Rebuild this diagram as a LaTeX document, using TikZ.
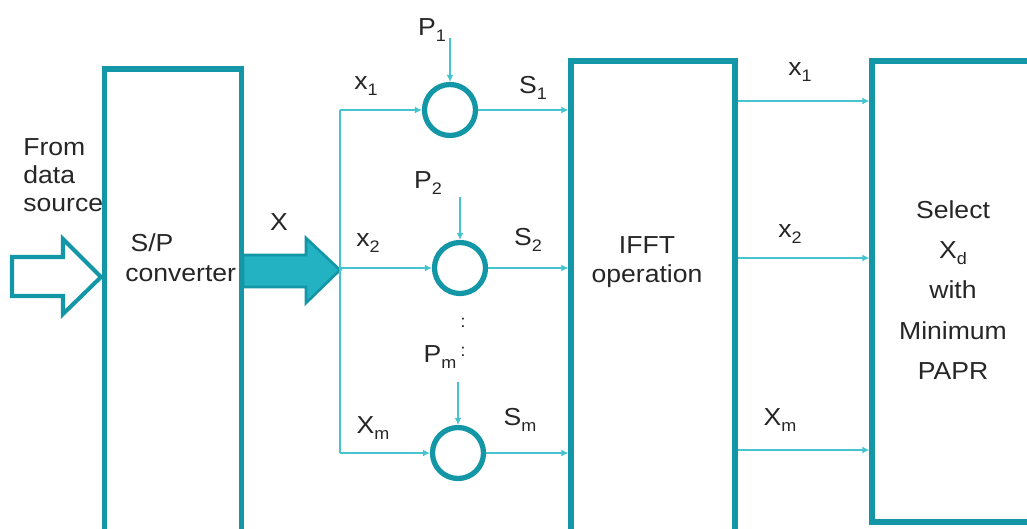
\documentclass[tikz,border=0pt]{standalone}
\usepackage{fontspec}
\setmainfont{Liberation Sans}[FakeStretch=1.08]
\usepackage{xcolor}
\usepackage{tikz}
\usetikzlibrary{calc,positioning,arrows.meta}

\definecolor{tealbox}{HTML}{1396A6}
\definecolor{tealline}{HTML}{45C3CF}
\definecolor{tealfill}{HTML}{22B2C1}

\newcommand{\lowsub}[1]{\raisebox{-0.45ex}{\fontsize{9.5}{10}\selectfont #1}}

\begin{document}
\begin{tikzpicture}[
    x=0.02cm, y=-0.02cm,
    blockbox/.style = {
        draw=tealbox, 
        line width=3pt, 
        inner sep=0pt,
        fill=white
    },
    mixer/.style = {
        circle, 
        draw=tealbox, 
        line width=3pt, 
        minimum size=1.02cm,
        inner sep=0pt
    },
    sigline/.style = {
        draw=tealline, 
        line width=1pt,
        -{Latex[length=4pt, width=4pt]}
    },
    lbl/.style = {
        font=\fontsize{14}{16}\selectfont, 
        inner sep=0pt,
        text=black!85
    },
    blocktext/.style = {
        lbl,
        align=center
    }
]

\useasboundingbox (0,0) rectangle (1027,528);

% --- Blocs ---
\node[blockbox, minimum width=2.73cm, minimum height=12cm] (sp) at (173,369) {};
\node[blockbox, minimum width=3.28cm, minimum height=12cm] (ifft) at (653,361) {};
\node[blockbox, minimum width=4.36cm, minimum height=9.22cm] (sel) at (981,291.5) {};

\node[lbl, align=left, anchor=west] (src) at (23,175) {From\\data\\source};
\node[lbl, align=left, anchor=west, font=\fontsize{14}{17}\selectfont] (sptext) at (125,258) {\hspace{3pt}S/P\\converter};
\node[blocktext, font=\fontsize{14}{16.5}\selectfont] (iffttext) at (647,262) {IFFT\\operation};
\node[blocktext, font=\fontsize{14}{23}\selectfont] (seltext) at (953,290) {Select\\X\lowsub{d}\\with\\Minimum\\PAPR};

% --- Fleches d'entree ---
\draw[tealbox, line width=2.3pt, line join=miter] 
    (12,257) -- (63,257) -- (63,239) -- (101,277) -- (63,314) -- (63,296) -- (12,296) -- cycle;
\draw[tealbox, fill=tealfill, line width=1.5pt, line join=miter] 
    (243,255) -- (306,255) -- (306,238) -- (340,270) -- (306,303) -- (306,287) -- (243,287) -- cycle;
\node[lbl] (xin) at (279,222) {X};

% --- Multiplieurs ---
\node[mixer] (c1) at (450,110) {};
\node[mixer] (c2) at (460,268) {};
\node[mixer] (cm) at (458,453) {};

\coordinate (split) at (340,268);
\coordinate (b1) at (340,110);
\coordinate (bm) at (340,453);
\coordinate (p1in) at (450,38);
\coordinate (p2in) at (460,197);
\coordinate (pmin) at (458,382);

\draw[tealline, line width=1pt] (b1) -- (bm);
\draw[sigline] (b1) -- (c1);
\draw[sigline] (split) -- (c2);
\draw[sigline] (bm) -- (cm);

\draw[sigline] (p1in) -- (c1);
\draw[sigline] (p2in) -- (c2);
\draw[sigline] (pmin) -- (cm);

\draw[sigline] (c1) -- (c1 -| ifft.west);
\draw[sigline] (c2) -- (c2 -| ifft.west);
\draw[sigline] (cm) -- (cm -| ifft.west);

% --- Sorties IFFT ---
\draw[sigline] (ifft.east |- 0,101) -- (sel.west |- 0,101);
\draw[sigline] (ifft.east |- 0,258) -- (sel.west |- 0,258);
\draw[sigline] (ifft.east |- 0,450) -- (sel.west |- 0,450);

% --- Etiquettes ---
\node[lbl] (lp1) at (432,30) {P\lowsub{1}};
\node[lbl] (lp2) at (428,183) {P\lowsub{2}};
\node[lbl] (lpm) at (440,357) {P\lowsub{m}};
\node[lbl, font=\fontsize{10}{10}\selectfont] (dots1) at (463,323) {:};
\node[lbl, font=\fontsize{10}{10}\selectfont] (dots2) at (463,352) {:};

\node[lbl] (lx1) at (366,86) {x\lowsub{1}};
\node[lbl] (lx2) at (368,243) {x\lowsub{2}};
\node[lbl] (lxm) at (373,428) {X\lowsub{m}};

\node[lbl] (ls1) at (533,88) {S\lowsub{1}};
\node[lbl] (ls2) at (528,240) {S\lowsub{2}};
\node[lbl] (lsm) at (520,420) {S\lowsub{m}};

\node[lbl] (ly1) at (800,72) {x\lowsub{1}};
\node[lbl] (ly2) at (790,234) {x\lowsub{2}};
\node[lbl] (lym) at (780,420) {X\lowsub{m}};

\end{tikzpicture}
\end{document}
